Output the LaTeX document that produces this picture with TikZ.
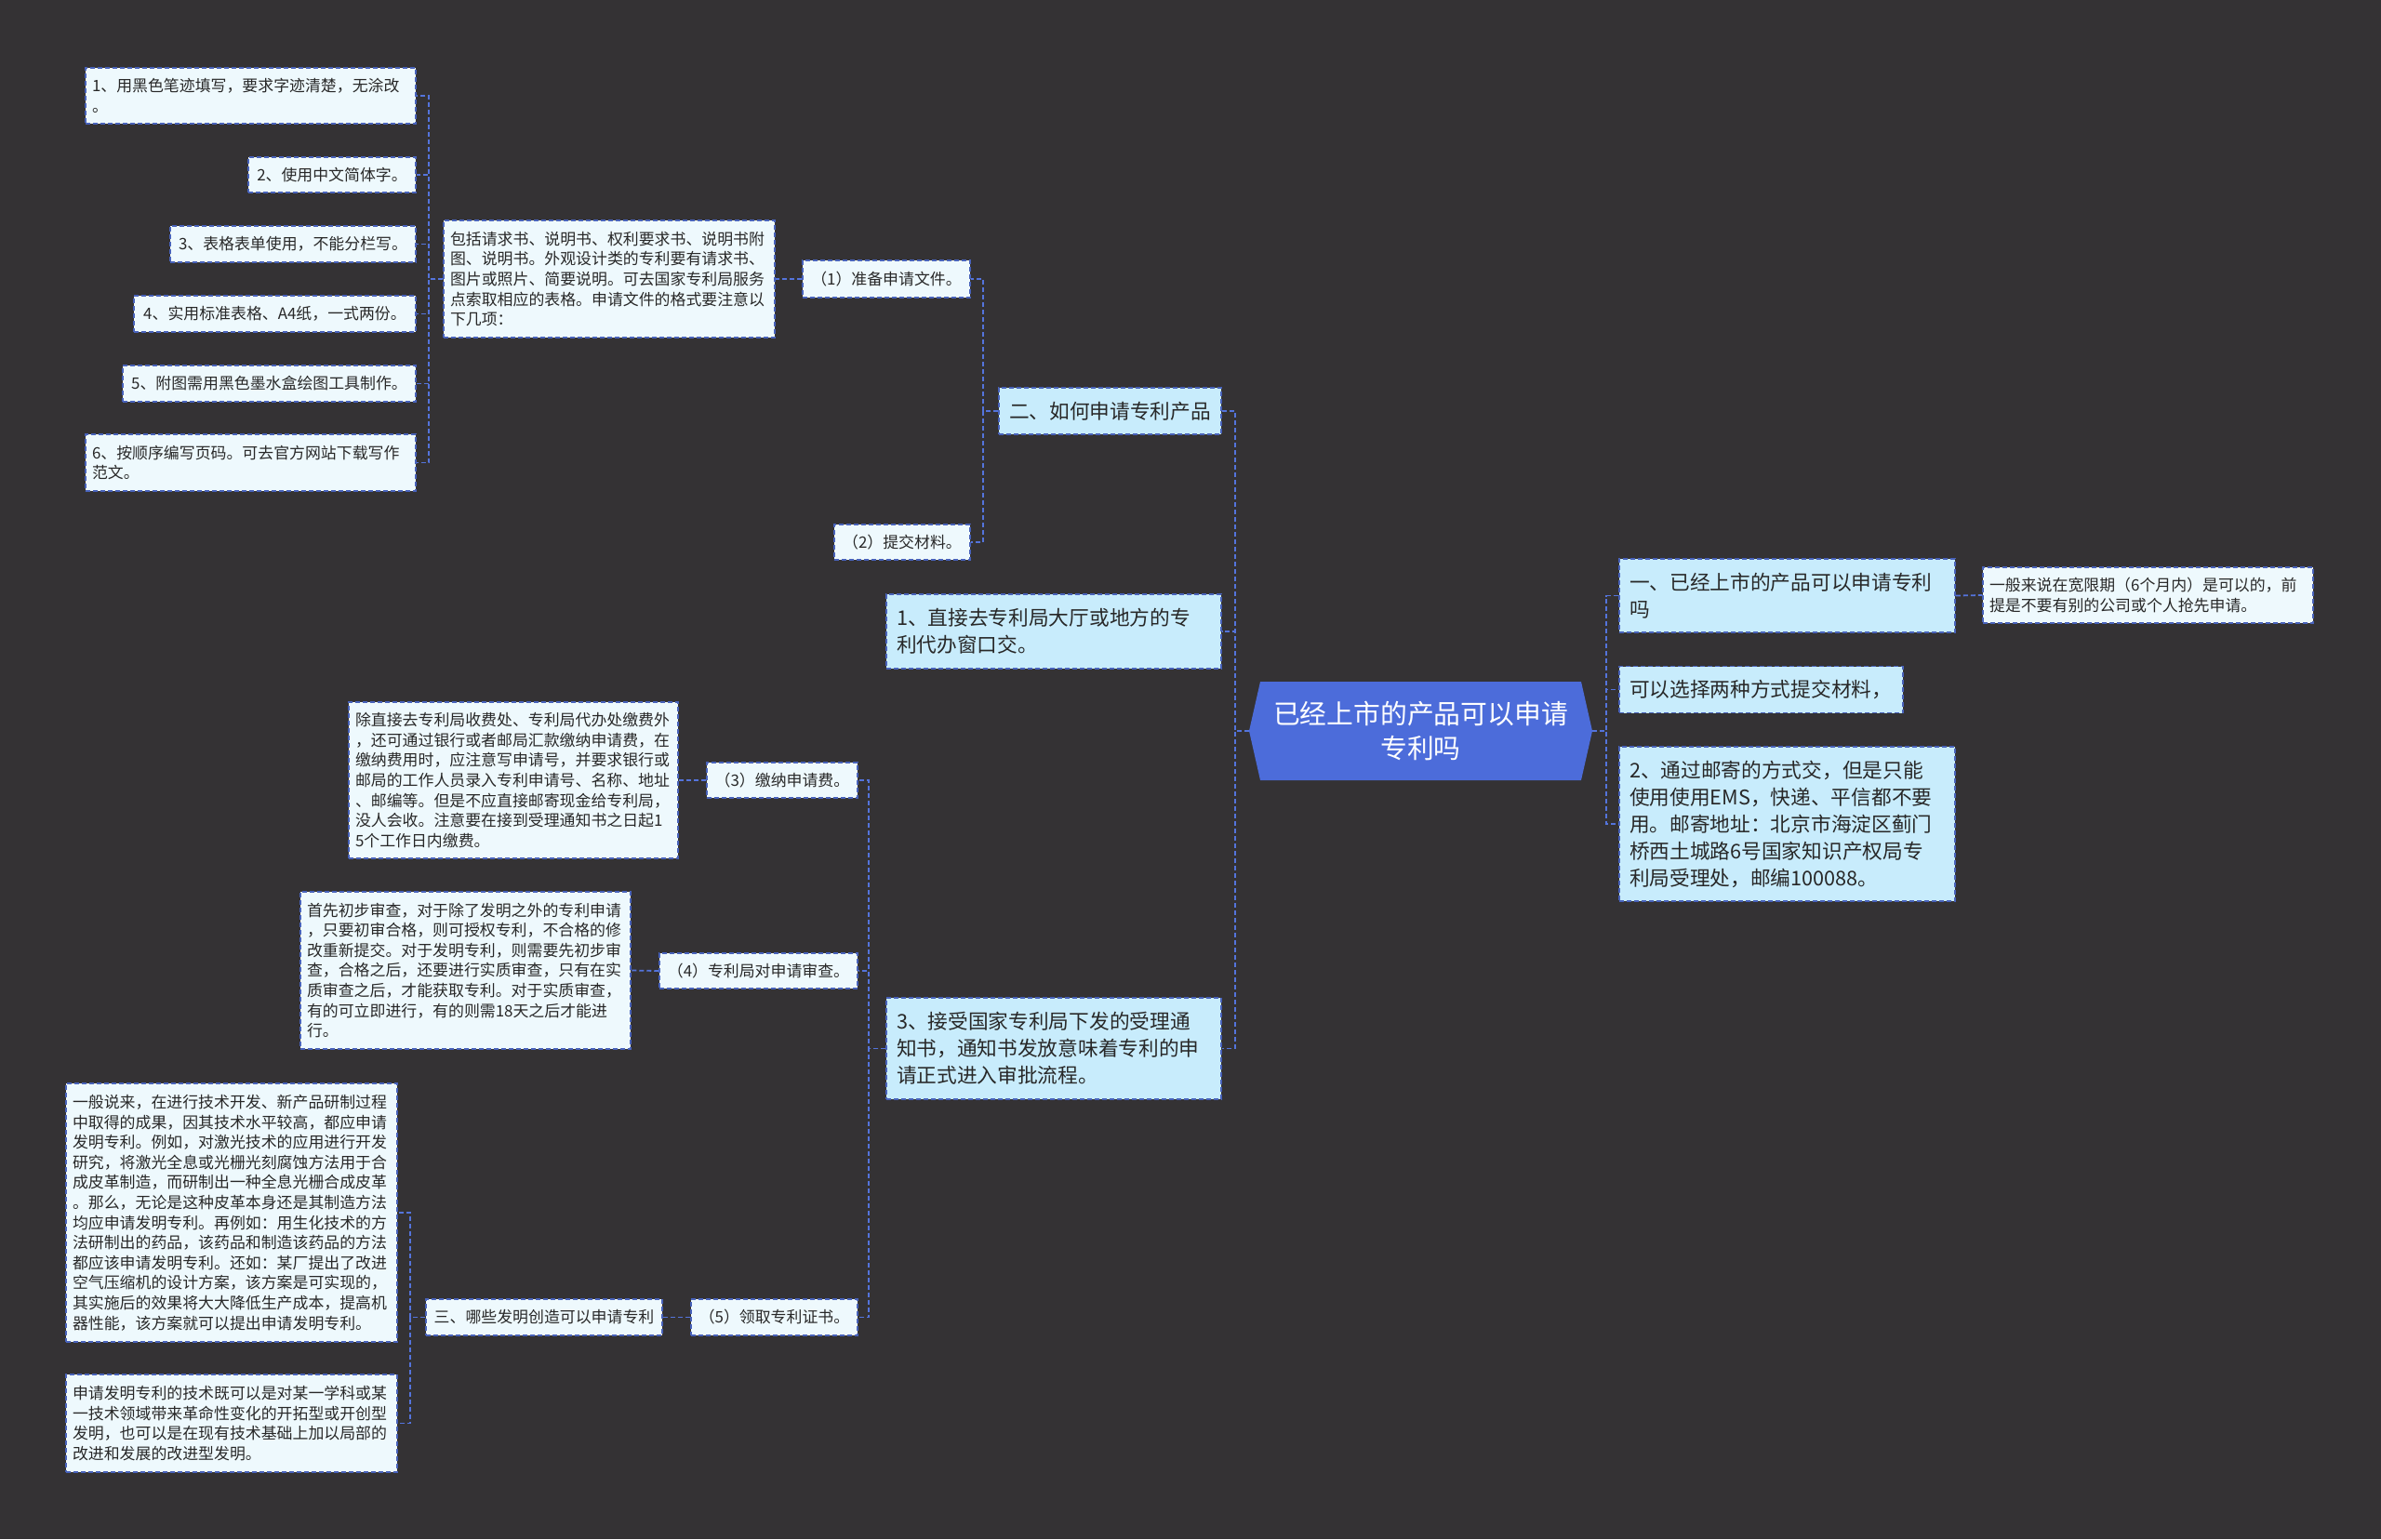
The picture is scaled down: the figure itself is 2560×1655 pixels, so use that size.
\documentclass[tikz,border=0pt]{standalone}
\usepackage{fontspec}
\newfontfamily\cjk{Noto Sans CJK SC}
\definecolor{bgdark}{RGB}{52,50,52}
\definecolor{rootblue}{RGB}{76,108,218}
\definecolor{topicfill}{RGB}{200,236,252}
\definecolor{leaffill}{RGB}{238,249,253}
\definecolor{boxline}{RGB}{72,98,186}
\definecolor{linkblue}{RGB}{84,116,220}
\definecolor{ink}{RGB}{40,40,40}
\tikzset{
  root/.style={inner sep=0pt, minimum width=369pt, minimum height=106pt, align=center, text=white,
    font=\cjk\fontsize{28.8}{37.5}\selectfont},
  topic/.style={draw=boxline, line width=1.5pt, dash pattern=on 5pt off 3pt, fill=topicfill, text=ink,
    inner xsep=11pt, inner ysep=0pt, align=left, font=\cjk\fontsize{21.7}{29}\selectfont},
  leaf/.style={draw=boxline, line width=1.5pt, dash pattern=on 5pt off 3pt, fill=leaffill, text=ink,
    inner xsep=7pt, inner ysep=0pt, align=left, font=\cjk\fontsize{16.9}{21.6}\selectfont},
  tag/.style={leaf, align=center},
  link/.style={draw=linkblue, line width=1.8pt, dash pattern=on 5pt off 3pt}
}
\begin{document}
\begin{tikzpicture}[x=1pt, y=-1pt]
\useasboundingbox (0,0) rectangle (2560,1655);
\fill[bgdark] (0,0) rectangle (2560,1655);
\fill[rootblue] (1343,786) -- (1355,733) -- (1700,733) -- (1712,786) -- (1700,839) -- (1355,839) -- cycle;
\node[root] (root) at (1527.5,786) {已经上市的产品可以申请\\专利吗};

\node[topic, text width=339pt, minimum height=79pt] (r1) at (1921.5,640.5)
{一、已经上市的产品可以申请专利\\吗};
\node[topic, text width=283pt, minimum height=50pt] (r2) at (1893.5,741.5)
{可以选择两种方式提交材料，};
\node[topic, text width=339pt, minimum height=166pt] (r3) at (1921.5,886)
{2、通过邮寄的方式交，但是只能\\使用使用EMS，快递、平信都不要\\用。邮寄地址：北京市海淀区蓟门\\桥西土城路6号国家知识产权局专\\利局受理处，邮编100088。};
\node[leaf, text width=341pt, minimum height=60pt] (r1a) at (2309.5,640)
{一般来说在宽限期（6个月内）是可以的，前\\提是不要有别的公司或个人抢先申请。};

\node[topic, text width=217pt, minimum height=50pt, align=center] (l1) at (1193.5,442)
{二、如何申请专利产品};
\node[topic, text width=338pt, minimum height=80pt] (l2) at (1133,679)
{1、直接去专利局大厅或地方的专\\利代办窗口交。};
\node[topic, text width=338pt, minimum height=109pt] (l3) at (1133,1127.5)
{3、接受国家专利局下发的受理通\\知书，通知书发放意味着专利的申\\请正式进入审批流程。};

\node[tag, text width=166pt, minimum height=40pt] (p1) at (953,300) {（1）准备申请文件。};
\node[tag, text width=132pt, minimum height=38pt] (p2) at (970,583) {（2）提交材料。};
\node[leaf, text width=342pt, minimum height=126pt] (p1a) at (655,300)
{包括请求书、说明书、权利要求书、说明书附\\图、说明书。外观设计类的专利要有请求书、\\图片或照片、简要说明。可去国家专利局服务\\点索取相应的表格。申请文件的格式要注意以\\下几项：};

\node[leaf, text width=341pt, minimum height=60pt] (f1) at (269.5,103)
{1、用黑色笔迹填写，要求字迹清楚，无涂改\\。};
\node[tag, text width=166pt, minimum height=38pt] (f2) at (357,188) {2、使用中文简体字。};
\node[tag, text width=250pt, minimum height=39pt] (f3) at (315,262.5) {3、表格表单使用，不能分栏写。};
\node[tag, text width=289pt, minimum height=39pt] (f4) at (295.5,337.5) {4、实用标准表格、A4纸，一式两份。};
\node[tag, text width=301pt, minimum height=39pt] (f5) at (289.5,412.5) {5、附图需用黑色墨水盒绘图工具制作。};
\node[leaf, text width=341pt, minimum height=61pt] (f6) at (269.5,497.5)
{6、按顺序编写页码。可去官方网站下载写作\\范文。};

\node[tag, text width=148pt, minimum height=38pt] (p3) at (841,839) {（3）缴纳申请费。};
\node[leaf, text width=340pt, minimum height=168pt] (p3a) at (552,839)
{除直接去专利局收费处、专利局代办处缴费外\\，还可通过银行或者邮局汇款缴纳申请费，在\\缴纳费用时，应注意写申请号，并要求银行或\\邮局的工作人员录入专利申请号、名称、地址\\、邮编等。但是不应直接邮寄现金给专利局，\\没人会收。注意要在接到受理通知书之日起1\\5个工作日内缴费。};
\node[tag, text width=199pt, minimum height=38pt] (p4) at (815.5,1044) {（4）专利局对申请审查。};
\node[leaf, text width=341pt, minimum height=169pt] (p4a) at (500.5,1043.5)
{首先初步审查，对于除了发明之外的专利申请\\，只要初审合格，则可授权专利，不合格的修\\改重新提交。对于发明专利，则需要先初步审\\查，合格之后，还要进行实质审查，只有在实\\质审查之后，才能获取专利。对于实质审查，\\有的可立即进行，有的则需18天之后才能进\\行。};
\node[tag, text width=165pt, minimum height=39pt] (p5) at (832.5,1416.5) {（5）领取专利证书。};
\node[tag, text width=240pt, minimum height=39pt] (q) at (585,1416.5) {三、哪些发明创造可以申请专利};
\node[leaf, text width=342pt, minimum height=278pt] (q1) at (249,1304)
{一般说来，在进行技术开发、新产品研制过程\\中取得的成果，因其技术水平较高，都应申请\\发明专利。例如，对激光技术的应用进行开发\\研究，将激光全息或光栅光刻腐蚀方法用于合\\成皮革制造，而研制出一种全息光栅合成皮革\\。那么，无论是这种皮革本身还是其制造方法\\均应申请发明专利。再例如：用生化技术的方\\法研制出的药品，该药品和制造该药品的方法\\都应该申请发明专利。还如：某厂提出了改进\\空气压缩机的设计方案，该方案是可实现的，\\其实施后的效果将大大降低生产成本，提高机\\器性能，该方案就可以提出申请发明专利。};
\node[leaf, text width=342pt, minimum height=105pt] (q2) at (249,1530.5)
{申请发明专利的技术既可以是对某一学科或某\\一技术领域带来革命性变化的开拓型或开创型\\发明，也可以是在现有技术基础上加以局部的\\改进和发展的改进型发明。};

\foreach \n in {r1,r2,r3}
  \draw[link] (root.east) -- ++(15,0) |- (\n.west);
\draw[link] (r1.east) -- (r1a.west);
\foreach \n in {l1,l2,l3}
  \draw[link] (root.west) -- ++(-15,0) |- (\n.east);
\foreach \n in {p1,p2}
  \draw[link] (l1.west) -- ++(-16,0) |- (\n.east);
\draw[link] (p1.west) -- (p1a.east);
\foreach \n in {f1,f2,f3,f4,f5,f6}
  \draw[link] (p1a.west) -- ++(-15,0) |- (\n.east);
\foreach \n in {p3,p4,p5}
  \draw[link] (l3.west) -- ++(-18,0) |- (\n.east);
\draw[link] (p3.west) -- (p3a.east);
\draw[link] (p4.west) -- (p4a.east);
\draw[link] (p5.west) -- (q.east);
\foreach \n in {q1,q2}
  \draw[link] (q.west) -- ++(-16,0) |- (\n.east);
\end{tikzpicture}
\end{document}
